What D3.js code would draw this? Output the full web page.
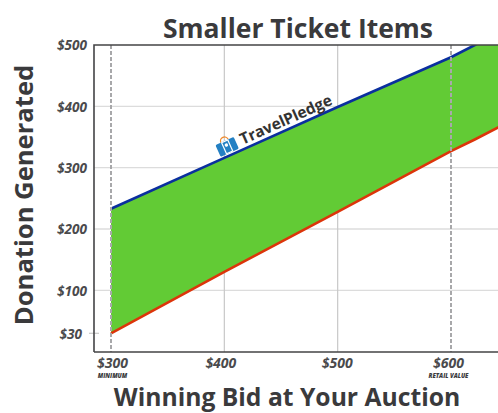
<!DOCTYPE html>
<html><head><meta charset="utf-8">
<script src="https://cdnjs.cloudflare.com/ajax/libs/d3/7.8.5/d3.min.js"></script>
<style>html,body{margin:0;padding:0;background:#fff}svg{display:block}
text{font-family:"Open Sans",sans-serif;fill:#3a3a3c}</style></head><body>
<svg id="c" width="498" height="413"></svg>
<script>
const bidValues=[300,400,500,600,621,642];
const upperValues=[233,316,399,480,500,520];
const lowerValues=[30,130,228,327,346,366];
const xTicks=[300,400,500,600];
const yTicks=[30,100,200,300,400,500];
const xSubLabels={300:"MINIMUM",600:"RETAIL VALUE"};
const dashedBids=[300,600];
const title="Smaller Ticket Items",xTitle="Winning Bid at Your Auction",yTitle="Donation Generated",brand="TravelPledge";

const L=94,R=498,T=45,B=352;
const svg=d3.select("#c");
const x=d3.scaleLinear().domain([300,600]).range([111,451]);
const y=d3.scaleLinear().domain([0,500]).range([351.7,45]);
svg.append("defs").append("clipPath").attr("id","p").append("rect").attr("x",L).attr("y",T).attr("width",R-L).attr("height",B-T);

const grid=svg.append("g");
grid.selectAll("line.h").data(yTicks.filter(d=>d>=100&&d<500)).join("line").attr("class","h")
 .attr("x1",L).attr("x2",R).attr("y1",d=>y(d)).attr("y2",d=>y(d)).attr("stroke","#dcdcdc").attr("stroke-width",1.3);
grid.selectAll("line.v").data(xTicks.filter(d=>!dashedBids.includes(d))).join("line").attr("class","v")
 .attr("x1",d=>x(d)).attr("x2",d=>x(d)).attr("y1",T).attr("y2",B).attr("stroke","#c8c8c8").attr("stroke-width",1.2);
grid.append("line").attr("x1",89).attr("x2",99).attr("y1",y(30)).attr("y2",y(30)).attr("stroke","#c8c8c8").attr("stroke-width",1.2);

const rows=bidValues.map((b,i)=>({b,u:upperValues[i],l:lowerValues[i]}));
const plot=svg.append("g").attr("clip-path","url(#p)");
plot.append("path").datum(rows).attr("fill","#62cb35")
 .attr("d",d3.area().x(d=>x(d.b)).y0(d=>y(d.l)).y1(d=>y(d.u)));
svg.selectAll("line.d").data(dashedBids).join("line").attr("class","d")
 .attr("x1",d=>x(d)).attr("x2",d=>x(d)).attr("y1",T).attr("y2",B)
 .attr("stroke","#a8a8aa").attr("stroke-width",2).attr("stroke-dasharray","4 2");
plot.append("path").datum(rows).attr("fill","none").attr("stroke","#0a2f9e").attr("stroke-width",2.6)
 .attr("d",d3.line().x(d=>x(d.b)).y(d=>y(d.u)));
plot.append("path").datum(rows).attr("fill","none").attr("stroke","#dc350a").attr("stroke-width",2.6)
 .attr("d",d3.line().x(d=>x(d.b)).y(d=>y(d.l)));

svg.append("path").attr("d",`M${L},${B}V${T}H${R}M${L},${B}H${R}`).attr("fill","none").attr("stroke","#444446").attr("stroke-width",1.6);

const ya=d3.axisLeft(y).tickValues(yTicks).tickSize(0).tickFormat(d=>"$"+d);
const yg=svg.append("g").attr("transform",`translate(${L},0)`).call(ya);
yg.select(".domain").remove();
yg.selectAll("text").attr("x",d=>d===30?-12:-7).attr("dy","0.36em").style("font-size","13.6px").style("font-weight",700).style("font-style","italic").style("fill","#4a4a4c");
const xa=d3.axisBottom(x).tickValues(xTicks).tickSize(0).tickFormat(d=>"$"+d);
const xg=svg.append("g").attr("transform",`translate(0,${B})`).call(xa);
xg.select(".domain").remove();
xg.selectAll("text").attr("y",6).attr("dy","0.71em").attr("dx",d=>({300:1,400:-4,500:-1,600:-3})[d]).style("font-size","14px").style("font-weight",700).style("font-style","italic").style("fill","#4a4a4c");
xg.selectAll(".tick").filter(d=>xSubLabels[d]).append("text").attr("y",22).attr("dy","0.71em").attr("dx",d=>d===300?1:-3).attr("text-anchor","middle")
 .text(d=>xSubLabels[d]).style("font-size","6px").style("font-weight",800).style("font-style","italic");

svg.append("text").attr("x",298).attr("y",38).attr("text-anchor","middle").style("font-size","26.5px").style("font-weight",700).text(title);
svg.append("text").attr("x",287).attr("y",406).attr("text-anchor","middle").style("font-size","24.7px").style("font-weight",700).text(xTitle);
svg.append("text").attr("transform","translate(33,195) rotate(-90)").attr("text-anchor","middle").style("font-size","25.6px").style("font-weight",700).text(yTitle);

const ang=-24.2;
const g=svg.append("g").attr("transform",`translate(${x(400)+7},${y(316)-9}) rotate(${ang})`);
g.append("text").attr("x",12).attr("y",1).style("font-size","15.5px").style("font-weight",700).style("fill","#333").text(brand);
const ic=g.append("g").attr("transform","translate(-10,-11)");
ic.append("path").attr("d","M3,1 A4,4 0 0 1 11,1").attr("fill","none").attr("stroke","#ef8a2c").attr("stroke-width",1.3);
ic.append("rect").attr("x",-3).attr("y",1).attr("width",20).attr("height",13).attr("rx",1.5).attr("fill","#2480c3");
ic.append("rect").attr("x",3).attr("y",1).attr("width",8).attr("height",13).attr("fill","#fff");
ic.append("rect").attr("x",4.2).attr("y",2).attr("width",5.6).attr("height",11).attr("fill","#2480c3");
ic.append("circle").attr("cx",7).attr("cy",5.5).attr("r",1.7).attr("fill","#fff");
</script></body></html>
